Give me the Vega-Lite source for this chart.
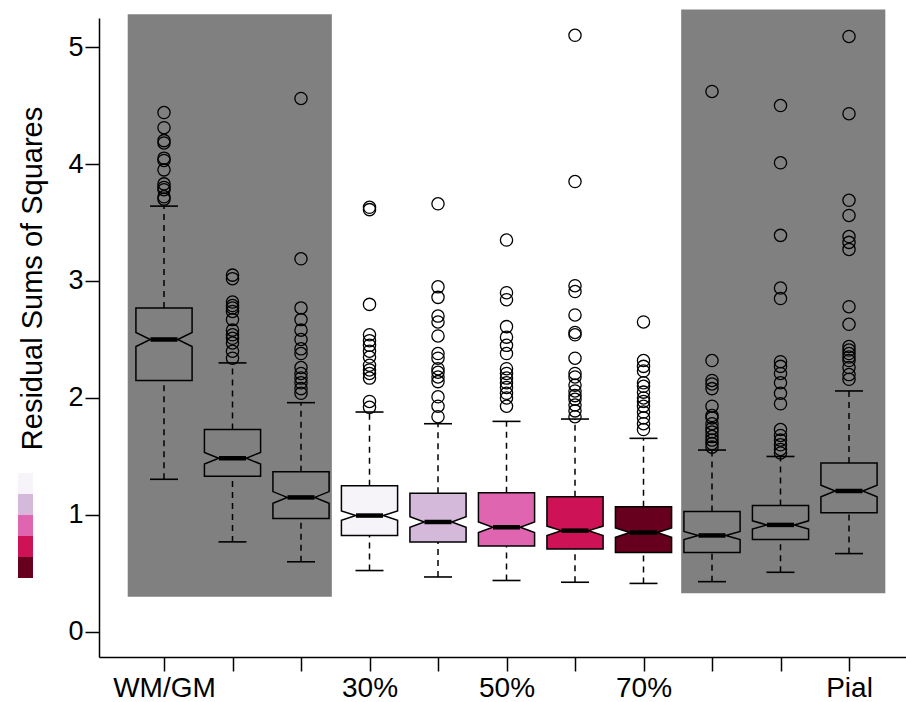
{
  "$schema": "https://vega.github.io/schema/vega-lite/v6.json",
  "width": 807,
  "height": 639,
  "autosize": {"type": "none"},
  "padding": {"left": 99, "top": 18, "right": 0, "bottom": 45},
  "background": "white",
  "config": {
    "view": {"stroke": null},
    "font": "Liberation Sans",
    "axis": {"grid": false, "domainColor": "black", "tickColor": "black", "labelColor": "black", "titleColor": "black", "domainWidth": 1.5, "tickWidth": 1.5, "tickSize": 14, "labelFont": "Liberation Sans", "titleFont": "Liberation Sans", "titleFontWeight": "normal"}
  },
  "datasets": {
    "bands": [
      {"x0": 0.47, "x1": 3.45, "y0": 0.30, "y1": 5.28},
      {"x0": 8.55, "x1": 11.53, "y0": 0.33, "y1": 5.32}
    ],
    "stats": [
      {"g": 1, "label": "WM/GM", "lo": 1.305, "q1": 2.15, "nlo": 2.44, "med": 2.50, "nhi": 2.56, "q3": 2.77, "hi": 3.64},
      {"g": 2, "label": "10%", "lo": 0.77, "q1": 1.33, "nlo": 1.435, "med": 1.485, "nhi": 1.535, "q3": 1.73, "hi": 2.30},
      {"g": 3, "label": "20%", "lo": 0.60, "q1": 0.97, "nlo": 1.10, "med": 1.15, "nhi": 1.20, "q3": 1.37, "hi": 1.96},
      {"g": 4, "label": "30%", "lo": 0.525, "q1": 0.825, "nlo": 0.955, "med": 0.995, "nhi": 1.035, "q3": 1.25, "hi": 1.88},
      {"g": 5, "label": "40%", "lo": 0.47, "q1": 0.77, "nlo": 0.895, "med": 0.94, "nhi": 0.985, "q3": 1.185, "hi": 1.78},
      {"g": 6, "label": "50%", "lo": 0.44, "q1": 0.735, "nlo": 0.85, "med": 0.895, "nhi": 0.94, "q3": 1.19, "hi": 1.80},
      {"g": 7, "label": "60%", "lo": 0.425, "q1": 0.71, "nlo": 0.825, "med": 0.866, "nhi": 0.905, "q3": 1.155, "hi": 1.82},
      {"g": 8, "label": "70%", "lo": 0.415, "q1": 0.68, "nlo": 0.81, "med": 0.85, "nhi": 0.89, "q3": 1.07, "hi": 1.655},
      {"g": 9, "label": "80%", "lo": 0.43, "q1": 0.68, "nlo": 0.79, "med": 0.825, "nhi": 0.86, "q3": 1.03, "hi": 1.555},
      {"g": 10, "label": "90%", "lo": 0.51, "q1": 0.79, "nlo": 0.88, "med": 0.915, "nhi": 0.95, "q3": 1.08, "hi": 1.50},
      {"g": 11, "label": "Pial", "lo": 0.67, "q1": 1.02, "nlo": 1.155, "med": 1.205, "nhi": 1.255, "q3": 1.445, "hi": 2.06}
    ],
    "outliers": [
      {"g": 1, "v": 4.44}, {"g": 1, "v": 4.31}, {"g": 1, "v": 4.20}, {"g": 1, "v": 4.18}, {"g": 1, "v": 4.05}, {"g": 1, "v": 4.03}, {"g": 1, "v": 3.95}, {"g": 1, "v": 3.83}, {"g": 1, "v": 3.80}, {"g": 1, "v": 3.78}, {"g": 1, "v": 3.72}, {"g": 1, "v": 3.70},
      {"g": 2, "v": 3.05}, {"g": 2, "v": 3.02}, {"g": 2, "v": 2.82}, {"g": 2, "v": 2.79}, {"g": 2, "v": 2.77}, {"g": 2, "v": 2.74}, {"g": 2, "v": 2.67}, {"g": 2, "v": 2.58}, {"g": 2, "v": 2.54}, {"g": 2, "v": 2.51}, {"g": 2, "v": 2.47}, {"g": 2, "v": 2.40}, {"g": 2, "v": 2.34},
      {"g": 3, "v": 4.56}, {"g": 3, "v": 3.19}, {"g": 3, "v": 2.77}, {"g": 3, "v": 2.67}, {"g": 3, "v": 2.58}, {"g": 3, "v": 2.50}, {"g": 3, "v": 2.42}, {"g": 3, "v": 2.38}, {"g": 3, "v": 2.26}, {"g": 3, "v": 2.21}, {"g": 3, "v": 2.17}, {"g": 3, "v": 2.13}, {"g": 3, "v": 2.08}, {"g": 3, "v": 2.04},
      {"g": 4, "v": 3.63}, {"g": 4, "v": 3.61}, {"g": 4, "v": 2.80}, {"g": 4, "v": 2.54}, {"g": 4, "v": 2.49}, {"g": 4, "v": 2.45}, {"g": 4, "v": 2.40}, {"g": 4, "v": 2.35}, {"g": 4, "v": 2.28}, {"g": 4, "v": 2.24}, {"g": 4, "v": 2.21}, {"g": 4, "v": 2.17}, {"g": 4, "v": 1.97}, {"g": 4, "v": 1.92},
      {"g": 5, "v": 3.66}, {"g": 5, "v": 2.95}, {"g": 5, "v": 2.86}, {"g": 5, "v": 2.70}, {"g": 5, "v": 2.65}, {"g": 5, "v": 2.53}, {"g": 5, "v": 2.38}, {"g": 5, "v": 2.34}, {"g": 5, "v": 2.25}, {"g": 5, "v": 2.22}, {"g": 5, "v": 2.18}, {"g": 5, "v": 2.14}, {"g": 5, "v": 2.01}, {"g": 5, "v": 1.93}, {"g": 5, "v": 1.84},
      {"g": 6, "v": 3.35}, {"g": 6, "v": 2.90}, {"g": 6, "v": 2.84}, {"g": 6, "v": 2.61}, {"g": 6, "v": 2.52}, {"g": 6, "v": 2.45}, {"g": 6, "v": 2.38}, {"g": 6, "v": 2.25}, {"g": 6, "v": 2.21}, {"g": 6, "v": 2.17}, {"g": 6, "v": 2.13}, {"g": 6, "v": 2.09}, {"g": 6, "v": 2.04}, {"g": 6, "v": 2.00}, {"g": 6, "v": 1.93},
      {"g": 7, "v": 5.10}, {"g": 7, "v": 3.85}, {"g": 7, "v": 2.96}, {"g": 7, "v": 2.91}, {"g": 7, "v": 2.71}, {"g": 7, "v": 2.56}, {"g": 7, "v": 2.54}, {"g": 7, "v": 2.34}, {"g": 7, "v": 2.21}, {"g": 7, "v": 2.18}, {"g": 7, "v": 2.11}, {"g": 7, "v": 2.06}, {"g": 7, "v": 2.02}, {"g": 7, "v": 1.99}, {"g": 7, "v": 1.94}, {"g": 7, "v": 1.89}, {"g": 7, "v": 1.84},
      {"g": 8, "v": 2.65}, {"g": 8, "v": 2.32}, {"g": 8, "v": 2.27}, {"g": 8, "v": 2.23}, {"g": 8, "v": 2.13}, {"g": 8, "v": 2.10}, {"g": 8, "v": 2.05}, {"g": 8, "v": 2.00}, {"g": 8, "v": 1.97}, {"g": 8, "v": 1.93}, {"g": 8, "v": 1.88}, {"g": 8, "v": 1.83}, {"g": 8, "v": 1.78}, {"g": 8, "v": 1.73},
      {"g": 9, "v": 4.62}, {"g": 9, "v": 2.32}, {"g": 9, "v": 2.15}, {"g": 9, "v": 2.12}, {"g": 9, "v": 2.08}, {"g": 9, "v": 1.93}, {"g": 9, "v": 1.85}, {"g": 9, "v": 1.83}, {"g": 9, "v": 1.78}, {"g": 9, "v": 1.74}, {"g": 9, "v": 1.71}, {"g": 9, "v": 1.67}, {"g": 9, "v": 1.64}, {"g": 9, "v": 1.61}, {"g": 9, "v": 1.58},
      {"g": 10, "v": 4.50}, {"g": 10, "v": 4.01}, {"g": 10, "v": 3.39}, {"g": 10, "v": 2.94}, {"g": 10, "v": 2.85}, {"g": 10, "v": 2.31}, {"g": 10, "v": 2.27}, {"g": 10, "v": 2.21}, {"g": 10, "v": 2.13}, {"g": 10, "v": 2.04}, {"g": 10, "v": 1.95}, {"g": 10, "v": 1.73}, {"g": 10, "v": 1.68}, {"g": 10, "v": 1.64}, {"g": 10, "v": 1.60}, {"g": 10, "v": 1.56}, {"g": 10, "v": 1.53},
      {"g": 11, "v": 5.09}, {"g": 11, "v": 4.43}, {"g": 11, "v": 3.69}, {"g": 11, "v": 3.56}, {"g": 11, "v": 3.38}, {"g": 11, "v": 3.33}, {"g": 11, "v": 3.27}, {"g": 11, "v": 2.78}, {"g": 11, "v": 2.63}, {"g": 11, "v": 2.44}, {"g": 11, "v": 2.41}, {"g": 11, "v": 2.38}, {"g": 11, "v": 2.35}, {"g": 11, "v": 2.32}, {"g": 11, "v": 2.26}, {"g": 11, "v": 2.20}, {"g": 11, "v": 2.16}
    ]
  },
  "layer": [
    {
      "data": {"name": "bands"},
      "mark": {"type": "rect", "fill": "#808080"},
      "encoding": {
        "x": {"field": "x0", "type": "quantitative", "scale": {"domain": [0.051, 11.832], "nice": false, "zero": false},
          "axis": {"title": null, "values": [1, 2, 3, 4, 5, 6, 7, 8, 9, 10, 11], "labelFontSize": 28, "labelPadding": 3, "labelExpr": "datum.value == 1 ? 'WM/GM' : datum.value == 4 ? '30%' : datum.value == 6 ? '50%' : datum.value == 8 ? '70%' : datum.value == 11 ? 'Pial' : ''", "labelOverlap": false, "labelFlush": false}},
        "x2": {"field": "x1"},
        "y": {"field": "y0", "type": "quantitative", "scale": {"domain": [-0.214, 5.248], "nice": false, "zero": false},
          "axis": {"title": "Residual Sums of Squares", "values": [0, 1, 2, 3, 4, 5], "format": "d", "labelFontSize": 27, "labelPadding": 2, "titleFontSize": 29, "titleX": -67, "titleY": 260, "titleAlign": "center", "titleBaseline": "middle", "titleAngle": -90}},
        "y2": {"field": "y1"}
      }
    },
    {
      "data": {"name": "stats"},
      "mark": {"type": "rule", "stroke": "black", "strokeWidth": 1.5, "strokeDash": [6, 5]},
      "encoding": {
        "x": {"field": "g", "type": "quantitative"},
        "y": {"field": "q3", "type": "quantitative"},
        "y2": {"field": "hi"}
      }
    },
    {
      "data": {"name": "stats"},
      "mark": {"type": "rule", "stroke": "black", "strokeWidth": 1.5, "strokeDash": [6, 5]},
      "encoding": {
        "x": {"field": "g", "type": "quantitative"},
        "y": {"field": "lo", "type": "quantitative"},
        "y2": {"field": "q1"}
      }
    },
    {
      "data": {"name": "stats"},
      "mark": {"type": "tick", "orient": "horizontal", "color": "black", "size": 28, "thickness": 1.6, "opacity": 1},
      "encoding": {
        "x": {"field": "g", "type": "quantitative"},
        "y": {"field": "hi", "type": "quantitative"}
      }
    },
    {
      "data": {"name": "stats"},
      "mark": {"type": "tick", "orient": "horizontal", "color": "black", "size": 28, "thickness": 1.6, "opacity": 1},
      "encoding": {
        "x": {"field": "g", "type": "quantitative"},
        "y": {"field": "lo", "type": "quantitative"}
      }
    },
    {
      "data": {"name": "stats"},
      "transform": [
        {"fold": ["q1", "nlo", "med", "nhi", "q3"], "as": ["stat", "val"]},
        {"calculate": "datum.g - (datum.stat === 'med' ? 0.2 : 0.41)", "as": "xl"},
        {"calculate": "datum.g + (datum.stat === 'med' ? 0.2 : 0.41)", "as": "xr"}
      ],
      "mark": {"type": "area", "orient": "horizontal", "stroke": "black", "strokeWidth": 1.5, "opacity": 1, "interpolate": "linear"},
      "encoding": {
        "y": {"field": "val", "type": "quantitative"},
        "x": {"field": "xl", "type": "quantitative"},
        "x2": {"field": "xr"},
        "fill": {"field": "label", "type": "nominal",
          "scale": {"domain": ["WM/GM", "10%", "20%", "30%", "40%", "50%", "60%", "70%", "80%", "90%", "Pial"],
            "range": ["#808080", "#808080", "#808080", "#f7f4f9", "#d4b9da", "#df65b0", "#ce1256", "#67001f", "#808080", "#808080", "#808080"]},
          "legend": {"orient": "none", "legendX": -84, "legendY": 455, "title": null, "values": ["30%", "40%", "50%", "60%", "70%"],
            "symbolType": "M-0.714,-1H0.714V1H-0.714Z", "symbolSize": 441, "symbolStrokeWidth": 0, "symbolStrokeColor": "transparent", "symbolOpacity": 1,
            "rowPadding": 0, "padding": 0, "labelExpr": "''", "labelOffset": 0, "labelFontSize": 1, "symbolOffset": 0}}
      }
    },
    {
      "data": {"name": "stats"},
      "mark": {"type": "tick", "orient": "horizontal", "color": "black", "size": 27, "thickness": 4.5, "opacity": 1},
      "encoding": {
        "x": {"field": "g", "type": "quantitative"},
        "y": {"field": "med", "type": "quantitative"}
      }
    },
    {
      "data": {"name": "outliers"},
      "mark": {"type": "point", "shape": "circle", "filled": false, "stroke": "black", "strokeWidth": 1.3, "size": 150, "opacity": 1},
      "encoding": {
        "x": {"field": "g", "type": "quantitative"},
        "y": {"field": "v", "type": "quantitative"}
      }
    }
  ]
}
